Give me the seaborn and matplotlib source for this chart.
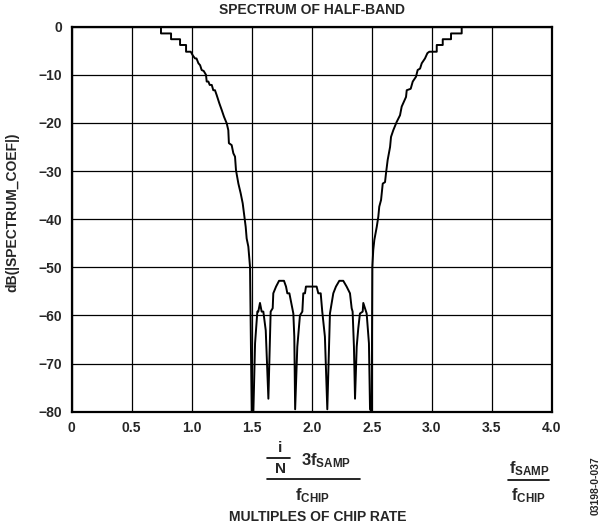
import matplotlib
matplotlib.use("Agg")
import matplotlib.pyplot as plt
import numpy as np
import pandas as pd
import seaborn as sns
from matplotlib.lines import Line2D

# LEFT SKIRT (multiples of chip rate, dB)
freq_left = [0.0, 0.744, 0.744, 0.828, 0.828, 0.903, 0.903, 0.953, 0.953, 0.992,
             1.01, 1.028, 1.040, 1.056, 1.07, 1.083, 1.10, 1.119, 1.125, 1.139,
             1.15, 1.167, 1.18, 1.194, 1.208, 1.23, 1.25, 1.269, 1.292, 1.305,
             1.31, 1.333, 1.347, 1.361, 1.369, 1.389, 1.408, 1.425, 1.436, 1.45,
             1.458, 1.472, 1.486, 1.5]
db_left = [0.0, 0.0, -1.4, -1.4, -2.6, -2.6, -3.8, -3.8, -5.2, -5.2,
           -6.0, -6.6, -6.6, -7.6, -8.0, -9.0, -9.2, -10.0, -11.4, -11.4,
           -12.1, -12.1, -13.2, -13.2, -14.2, -15.9, -17.3, -18.7, -20.1, -21.5,
           -24.2, -24.6, -26.3, -27.0, -29.8, -32.6, -34.6, -36.7, -38.8, -41.6,
           -44.0, -45.7, -49.9, -80.0]

# STOPBAND LOBES
freq_mid = [1.514, 1.528, 1.547, 1.555, 1.569, 1.583, 1.597, 1.617, 1.639, 1.658,
            1.675, 1.680, 1.703, 1.728, 1.769, 1.786, 1.797, 1.814, 1.825, 1.847,
            1.855, 1.862, 1.88, 1.902, 1.922, 1.93, 1.944, 1.952, 2.041, 2.055,
            2.075, 2.088, 2.11, 2.13, 2.152, 2.18, 2.202, 2.23, 2.263, 2.291,
            2.319, 2.333, 2.341, 2.352, 2.361, 2.375, 2.388, 2.402, 2.425, 2.43,
            2.444, 2.458, 2.477, 2.486]
db_mid = [-80.0, -65.8, -59.2, -59.2, -57.4, -59.2, -59.2, -63.1, -77.3, -59.2,
          -58.5, -55.4, -54.0, -52.8, -52.8, -54.0, -55.4, -55.4, -56.8, -59.6,
          -64.4, -79.5, -66.5, -60.0, -59.2, -55.4, -55.4, -54.0, -54.0, -55.4,
          -55.4, -59.2, -64.4, -79.5, -59.6, -55.4, -54.0, -52.8, -52.8, -54.0,
          -55.4, -58.5, -59.2, -66.5, -77.3, -66.5, -62.7, -59.6, -59.2, -57.4,
          -58.5, -59.6, -65.8, -79.5]

# RIGHT SKIRT
freq_right = [2.5, 2.505, 2.513, 2.522, 2.542, 2.555, 2.563, 2.578, 2.592, 2.611,
              2.619, 2.633, 2.653, 2.661, 2.68, 2.708, 2.736, 2.75, 2.786, 2.792,
              2.825, 2.842, 2.869, 2.883, 2.903, 2.917, 2.944, 2.964, 2.98, 3.042,
              3.042, 3.092, 3.092, 3.161, 3.161, 3.25, 3.25, 4.0]
db_right = [-80.0, -50.0, -46.4, -44.3, -41.6, -39.5, -37.4, -36.0, -32.6, -32.3,
            -30.5, -27.7, -25.0, -22.9, -21.5, -19.8, -18.4, -16.6, -14.6, -13.2,
            -12.9, -11.4, -10.4, -9.0, -8.7, -7.6, -6.6, -5.5, -5.2, -5.2,
            -3.8, -3.8, -2.6, -2.6, -1.4, -1.4, 0.0, 0.0]

x_ticks = [0, 0.5, 1.0, 1.5, 2.0, 2.5, 3.0, 3.5, 4.0]
x_tick_labels = ["0", "0.5", "1.0", "1.5", "2.0", "2.5", "3.0", "3.5", "4.0"]
y_ticks = [0, -10, -20, -30, -40, -50, -60, -70, -80]
y_tick_labels = ["0", "\u221210", "\u221220", "\u221230", "\u221240",
                 "\u221250", "\u221260", "\u221270", "\u221280"]

df = pd.DataFrame({
    "freq": freq_left + freq_mid + freq_right,
    "db": db_left + db_mid + db_right,
})
df["orden"] = np.arange(len(df))

sns.set_style("white")
plt.rcParams["font.family"] = ["Liberation Sans", "DejaVu Sans"]
plt.rcParams["font.weight"] = "bold"
plt.rcParams["mathtext.fontset"] = "custom"
plt.rcParams["mathtext.rm"] = "Liberation Sans:bold"
plt.rcParams["mathtext.it"] = "Liberation Sans:bold"
plt.rcParams["mathtext.bf"] = "Liberation Sans:bold"
plt.rcParams["mathtext.default"] = "bf"

W, H = 604, 529
fig = plt.figure(figsize=(W / 100, H / 100), dpi=100)
ax = fig.add_axes([71.7 / W, 1 - 411.7 / H, 480 / W, 385 / H])

sns.lineplot(data=df, x="freq", y="db", sort=False, estimator=None,
             color="black", linewidth=1.4, ax=ax, zorder=3)

ax.set_xlim(0, 4)
ax.set_ylim(-80, 0)
ax.set_xticks(x_ticks)
ax.set_xticklabels(x_tick_labels, fontsize=10, fontweight="bold")
ax.set_yticks(y_ticks)
ax.set_yticklabels(y_tick_labels, fontsize=10, fontweight="bold")
ax.tick_params(length=0, pad=7)
ax.grid(True, color="black", linewidth=0.9)
for s in ax.spines.values():
    s.set_color("black")
    s.set_linewidth(1.6)
ax.set_xlabel("")
ax.set_ylabel("")
ax.set_title("SPECTRUM OF HALF-BAND", fontsize=10, fontweight="bold", pad=9)

fig.text(12 / W, 1 - 212 / H, "dB(|SPECTRUM_COEF|)", rotation=90,
         ha="center", va="center", fontsize=10, fontweight="bold")


def fx(px):
    return px / W


def fy(py):
    return 1 - py / H


# fraccion i/N 3fSAMP / fCHIP
fig.text(fx(280), fy(448), "i", ha="center", va="center", fontsize=11, fontweight="bold")
fig.add_artist(Line2D([fx(267), fx(290)], [fy(458), fy(458)], color="black", lw=1.2))
fig.text(fx(280), fy(469), "N", ha="center", va="center", fontsize=11, fontweight="bold")
fig.text(fx(301), fy(461), r"$3f_{SAMP}$", ha="left", va="center", fontsize=12)
fig.add_artist(Line2D([fx(267), fx(360)], [fy(479), fy(479)], color="black", lw=1.2))
fig.text(fx(313), fy(496), r"$f_{CHIP}$", ha="center", va="center", fontsize=12)
fig.text(fx(318), fy(517), "MULTIPLES OF CHIP RATE", ha="center", va="center",
         fontsize=10, fontweight="bold")

# fraccion fSAMP / fCHIP
fig.text(fx(529), fy(469), r"$f_{SAMP}$", ha="center", va="center", fontsize=12)
fig.add_artist(Line2D([fx(508), fx(549)], [fy(480), fy(480)], color="black", lw=1.2))
fig.text(fx(529), fy(496), r"$f_{CHIP}$", ha="center", va="center", fontsize=12)

fig.text(fx(596), fy(486), "03198-0-037", rotation=90, ha="center", va="center",
         fontsize=7.5, fontweight="bold")

fig.savefig("out.png", dpi=100)
